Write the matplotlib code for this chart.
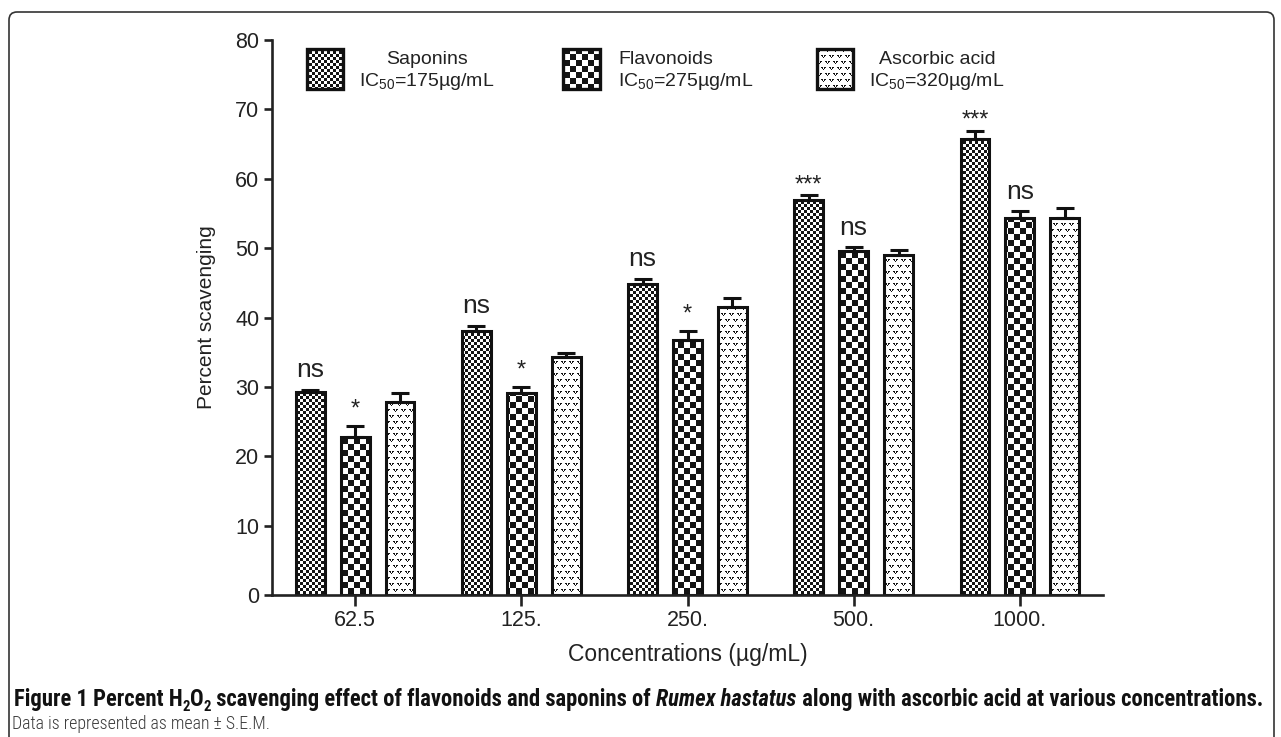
import numpy as np
import matplotlib
matplotlib.use("Agg")
import matplotlib.pyplot as plt
from matplotlib.patches import Rectangle, FancyBboxPatch
from matplotlib.path import Path
from matplotlib.transforms import IdentityTransform

# ---------------- data ----------------
categories = ['62.5', '125.', '250.', '500.', '1000.']
saponins = [29.3, 38.0, 44.9, 57.0, 65.7]
saponins_err = [0.3, 0.8, 0.7, 0.6, 1.2]
flavonoids = [22.8, 29.1, 36.8, 49.6, 54.4]
flavonoids_err = [1.5, 0.9, 1.3, 0.5, 0.9]
ascorbic = [27.8, 34.3, 41.5, 49.0, 54.3]
ascorbic_err = [1.3, 0.6, 1.3, 0.8, 1.5]
saponins_sig = ['ns', 'ns', 'ns', '***', '***']
flavonoids_sig = ['*', '*', '*', 'ns', 'ns']
legend_names = ['Saponins', 'Flavonoids', 'Ascorbic acid']
legend_ic50 = ['175', '275', '320']

plt.rcParams['font.family'] = ['Liberation Sans', 'DejaVu Sans']
plt.rcParams['mathtext.fontset'] = 'custom'
plt.rcParams['mathtext.rm'] = 'Liberation Sans'
plt.rcParams['mathtext.it'] = 'Liberation Sans:italic'
plt.rcParams['mathtext.bf'] = 'Liberation Sans:bold'

W, H = 1281, 737
fig = plt.figure(figsize=(W / 100, H / 100), dpi=100)
fig.patch.set_facecolor('white')

ax_l, ax_r, ax_t, ax_b = 272, 1103, 40, 595
ax = fig.add_axes([ax_l / W, 1 - ax_b / H, (ax_r - ax_l) / W, (ax_b - ax_t) / H])
ax.set_facecolor('none')
ax.set_xlim(-0.5, len(categories) - 0.5)
ax.set_ylim(0, 80)

x = np.arange(len(categories))
pitch = 0.27
bw = 0.174
lw = 2.2
series = [(saponins, saponins_err), (flavonoids, flavonoids_err), (ascorbic, ascorbic_err)]
containers = []
for i, (vals, errs) in enumerate(series):
    xs = x + (i - 1) * pitch
    bars = ax.bar(xs, vals, width=bw, facecolor='none', edgecolor='#111111',
                  linewidth=lw, zorder=2)
    containers.append(bars)
    ax.errorbar(xs, vals, yerr=[np.zeros(len(vals)), errs], fmt='none',
                ecolor='#111111', elinewidth=lw, capsize=6.5, capthick=lw, zorder=3)

# significance labels
offs = {'ns': 9.0, '*': 7.5, '***': 3.0}
sizes = {'ns': 19, '*': 17, '***': 17}
for i, (vals, errs, sig) in enumerate([(saponins, saponins_err, saponins_sig),
                                        (flavonoids, flavonoids_err, flavonoids_sig)]):
    xs = x + (i - 1) * pitch
    for xx, v, e, s in zip(xs, vals, errs, sig):
        ax.annotate(s, xy=(xx, v + e), xytext=(0, offs[s]), textcoords='offset points',
                    ha='center', va='baseline', fontsize=sizes[s], color='#222222')

# axes styling
for s in ['top', 'right']:
    ax.spines[s].set_visible(False)
for s in ['left', 'bottom']:
    ax.spines[s].set_linewidth(1.9)
    ax.spines[s].set_color('#222222')
ax.set_yticks(np.arange(0, 81, 10))
ax.set_xticks(x)
ax.set_xticklabels(categories)
ax.tick_params(axis='y', length=6, width=1.9, pad=3, labelsize=15.5, color='#222222',
               labelcolor='#222222')
ax.tick_params(axis='x', length=8, width=1.9, pad=3, labelsize=15.5, color='#222222',
               labelcolor='#222222')
ax.set_ylabel('Percent scavenging', fontsize=15, color='#222222')
ax.yaxis.label.set_va('center')
ax.yaxis.set_label_coords((206 - ax_l) / (ax_r - ax_l), 0.5)
ax.set_xlabel('Concentrations (\u00b5g/mL)', fontsize=16.5, color='#222222')
ax.xaxis.label.set_va('center')
ax.xaxis.set_label_coords(0.5, (ax_b - 655) / (ax_b - ax_t))

# ---------------- textures ----------------
yy, xx_ = np.mgrid[0:H, 0:W]
def rgba_from_mask(mask):
    arr = np.ones((H, W, 4), dtype=float)
    arr[mask, 0:3] = 0.08
    return arr

pat_sap = ((yy // 3 + xx_ // 3) % 2 == 0)
pat_flav = ((yy // 6 + xx_ // 6) % 2 == 0)
shift = ((yy // 6) % 2) * 4
tx = (xx_ + shift) % 8
ty = yy % 6
pat_asc = (((ty == 1) & np.isin(tx, [1, 2, 4, 5])) |
           ((ty == 2) & np.isin(tx, [2, 4])) |
           ((ty == 3) & (tx == 3)))
patterns = [pat_sap, pat_flav, pat_asc]

# legend boxes (pixel coordinates, image y downward)
leg_boxes = [(307, 49, 36, 40), (563, 49, 37, 40), (817, 49, 36, 40)]

for k, bars in enumerate(containers):
    paths = []
    for p in bars.patches:
        dp = p.get_patch_transform().transform_path(p.get_path())
        paths.append(ax.transData.transform_path(dp))
    bx, by, bwid, bht = leg_boxes[k]
    rect = Path([(bx, H - by), (bx + bwid, H - by), (bx + bwid, H - by - bht),
                 (bx, H - by - bht), (bx, H - by)],
                [Path.MOVETO, Path.LINETO, Path.LINETO, Path.LINETO, Path.CLOSEPOLY])
    paths.append(rect)
    comp = Path.make_compound_path(*paths)
    im = fig.figimage(rgba_from_mask(patterns[k]), xo=0, yo=0, origin='upper', zorder=-1)
    im.set_clip_path(comp, IdentityTransform())
    fig.add_artist(Rectangle((bx, H - by - bht), bwid, bht, facecolor='none',
                             edgecolor='#111111', linewidth=2.4,
                             transform=IdentityTransform()))

# legend text
leg_text = [(427, 'center'), (618, 'left'), (937, 'center')]
for k, (lx, ha) in enumerate(leg_text):
    fig.text(lx, H - 59, legend_names[k], ha=ha, va='center', fontsize=14,
             color='#222222', transform=IdentityTransform())
    fig.text(lx, H - 82, 'IC$_{\\mathregular{50}}$=' + legend_ic50[k] + '\u00b5g/mL', ha=ha,
             va='center', fontsize=14, color='#222222', transform=IdentityTransform())

# ---------------- figure border ----------------
border = FancyBboxPatch((9, -20), 1274 - 9, H - 12 + 20,
                        boxstyle='round,pad=0,rounding_size=8',
                        facecolor='none', edgecolor='#333333', linewidth=1.2,
                        transform=IdentityTransform())
fig.add_artist(border)

# ---------------- caption ----------------
cap_family = ['Roboto Condensed', 'Liberation Sans Narrow', 'Liberation Sans', 'DejaVu Sans']
fig.canvas.draw()
renderer = fig.canvas.get_renderer()

def advance(s, size, weight, style):
    t1 = fig.text(0, 0, '|' + s + '|', fontsize=size, fontweight=weight, fontstyle=style,
                  family=cap_family, fontstretch='condensed', transform=IdentityTransform())
    t2 = fig.text(0, 0, '||', fontsize=size, fontweight=weight, fontstyle=style,
                  family=cap_family, fontstretch='condensed', transform=IdentityTransform())
    w = t1.get_window_extent(renderer).width - t2.get_window_extent(renderer).width
    t1.remove(); t2.remove()
    return w

runs = [('Figure 1 Percent H', 'bold', 'normal', False),
        ('2', 'bold', 'normal', True),
        ('O', 'bold', 'normal', False),
        ('2', 'bold', 'normal', True),
        (' scavenging effect of flavonoids and saponins of ', 'bold', 'normal', False),
        ('Rumex hastatus', 'bold', 'italic', False),
        (' along with ascorbic acid at various concentrations.', 'bold', 'normal', False)]

def total_width(size):
    return sum(advance(s, size * (0.65 if sub else 1.0), w, st) for s, w, st, sub in runs)

base = 14.0
x0 = 14
tw = total_width(base)
size = base * ((1268 - x0) / tw)
cx = x0
cy = H - 706
for s, w, st, sub in runs:
    fs = size * (0.65 if sub else 1.0)
    dy = -size * 0.3 if sub else 0
    fig.text(cx, cy + dy, s, fontsize=fs, fontweight=w, fontstyle=st, family=cap_family,
             fontstretch='condensed', va='baseline', ha='left', color='#111111',
             transform=IdentityTransform())
    cx += advance(s, fs, w, st)

line2 = 'Data is represented as mean \u00b1 S.E.M.'
w2 = advance(line2, size, 'light', 'normal')
fig.text(x0 - 2, H - 729, line2, fontsize=size * (258 / w2),
         family=cap_family, fontweight='light', fontstretch='condensed', va='baseline',
         ha='left', color='#3a3a3a', transform=IdentityTransform())

fig.savefig('out.png', dpi=100)
